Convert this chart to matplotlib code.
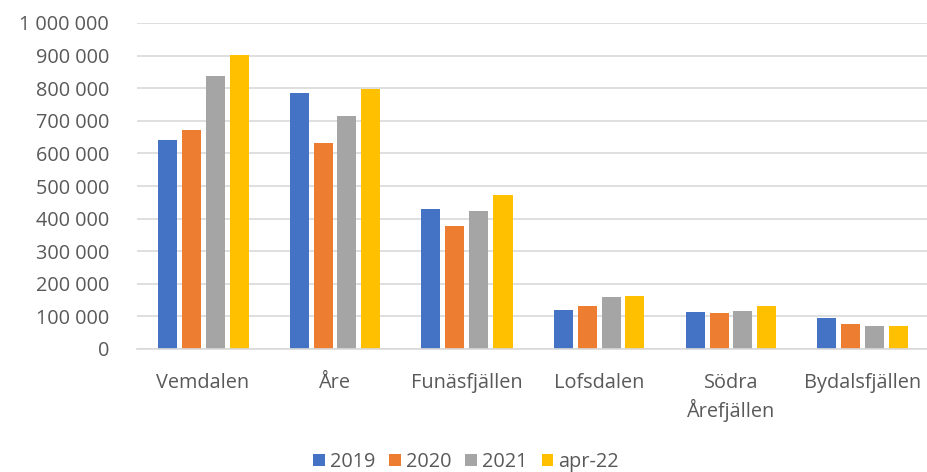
import matplotlib
matplotlib.use("Agg")
import matplotlib.pyplot as plt
from matplotlib.ticker import FuncFormatter
import numpy as np

categories = ["Vemdalen", "Åre", "Funäsfjällen", "Lofsdalen", "Södra\nÅrefjällen", "Bydalsfjällen"]
series_names = ["2019", "2020", "2021", "apr-22"]
v2019 = [640000, 784000, 429000, 119000, 113000, 96000]
v2020 = [671000, 631000, 378000, 133000, 109000, 78000]
v2021 = [837000, 714000, 422000, 159000, 116000, 71000]
vapr22 = [901000, 798000, 471000, 163000, 133000, 70000]
colors = ["#4472C4", "#ED7D31", "#A5A5A5", "#FFC000"]
yticks = list(range(0, 1000001, 100000))

plt.rcParams['font.family'] = ['Open Sans', 'DejaVu Sans']
text_color = "#595959"
fs = 14.3

fig = plt.figure(figsize=(9.28, 4.72), dpi=100)
ax = fig.add_axes([137/928, 1 - 349/472, (929-137)/928, (349-23)/472])

x = np.arange(len(categories))
step = 24/132
width = 19/132
all_series = [v2019, v2020, v2021, vapr22]
for i, (name, vals, c) in enumerate(zip(series_names, all_series, colors)):
    ax.bar(x + (i - 1.5) * step, vals, width=width, color=c, label=name, zorder=3)

ax.set_xlim(-0.5, len(categories) - 0.5)
ax.set_ylim(0, 1000000)
ax.set_yticks(yticks)
ax.yaxis.set_major_formatter(FuncFormatter(lambda v, p: f"{int(v):,}".replace(",", " ")))
ax.grid(axis='y', color="#D9D9D9", linewidth=1.2, zorder=0)
for s in ["top", "right", "left"]:
    ax.spines[s].set_visible(False)
ax.spines["bottom"].set_color("#D9D9D9")
ax.spines["bottom"].set_linewidth(1.2)
ax.spines["bottom"].set_zorder(4)
ax.set_xticks(x)
ax.set_xticklabels(categories, linespacing=1.35)
ax.tick_params(axis='x', length=0, pad=17, labelsize=fs, labelcolor=text_color)
ax.tick_params(axis='y', length=0, pad=20, labelsize=fs, labelcolor=text_color)

leg = fig.legend(loc='center', bbox_to_anchor=(466/928, 1 - 462/472), ncol=4, frameon=False,
                 fontsize=fs, handlelength=0.6, handleheight=0.6, handletextpad=0.25,
                 columnspacing=0.7, labelcolor=text_color)

fig.savefig("out.png", dpi=100)
